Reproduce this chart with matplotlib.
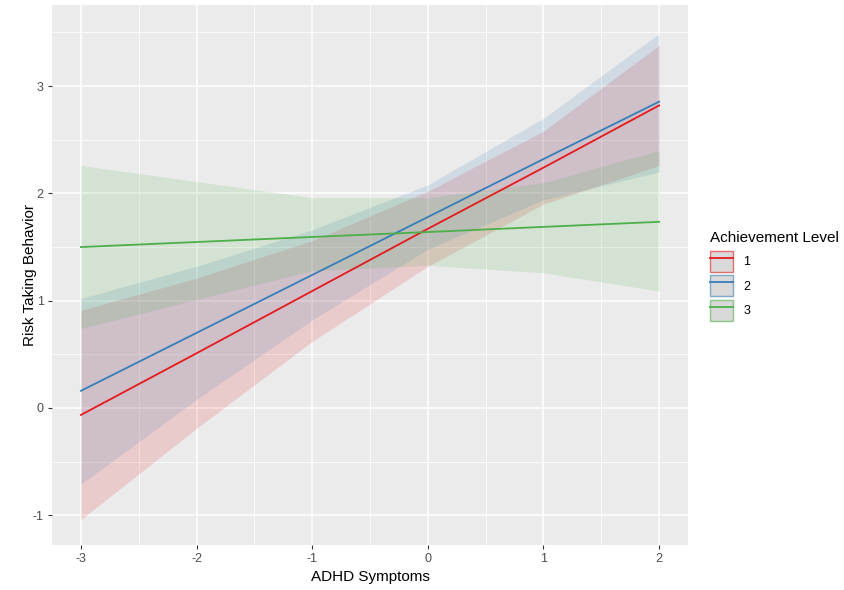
import numpy as np
import matplotlib
matplotlib.use("Agg")
import matplotlib.pyplot as plt
from matplotlib.patches import Patch
from matplotlib.lines import Line2D
from matplotlib.legend_handler import HandlerTuple
from matplotlib.colors import to_rgba

plt.rcParams['font.family'] = ['Liberation Sans', 'DejaVu Sans']
plt.rcParams['axes.unicode_minus'] = False

adhd = [-3, -2, -1, 0, 1, 2]

levels = ['1', '2', '3']
colors = ['#E41A1C', '#377EB8', '#4DAF4A']

# predicted risk taking per achievement level
pred_1 = [-0.065, 0.51, 1.09, 1.67, 2.24, 2.82]
pred_2 = [0.16, 0.70, 1.24, 1.78, 2.32, 2.855]
pred_3 = [1.50, 1.547, 1.594, 1.64, 1.688, 1.735]

# confidence bands
low_1 = [-1.04, -0.19, 0.62, 1.32, 1.90, 2.26]
high_1 = [0.91, 1.21, 1.56, 2.02, 2.58, 3.38]
low_2 = [-0.71, 0.08, 0.82, 1.48, 1.94, 2.20]
high_2 = [1.02, 1.32, 1.66, 2.08, 2.70, 3.49]
low_3 = [0.74, 1.01, 1.28, 1.33, 1.26, 1.09]
high_3 = [2.26, 2.11, 1.96, 1.96, 2.10, 2.40]

preds = [pred_1, pred_2, pred_3]
lows = [low_1, low_2, low_3]
highs = [high_1, high_2, high_3]

fig = plt.figure(figsize=(8.44, 5.90), dpi=100, facecolor='white')
ax = fig.add_axes([52/844, 1-545/590, (688-52)/844, (545-5)/590])
ax.set_facecolor('#EBEBEB')

for c, lo, hi in zip(colors, lows, highs):
    ax.fill_between(adhd, lo, hi, color=c, alpha=0.15, linewidth=0)
for c, p in zip(colors, preds):
    ax.plot(adhd, p, color=c, linewidth=1.3)

ax.set_xlim(-3.25, 2.25)
ax.set_ylim(-1.277, 3.756)
ax.set_xticks(adhd)
ax.set_xticks([-2.5, -1.5, -0.5, 0.5, 1.5], minor=True)
ax.set_yticks([-1, 0, 1, 2, 3])
ax.set_yticks([-0.5, 0.5, 1.5, 2.5, 3.5], minor=True)
ax.grid(True, which='major', color='white', linewidth=1.1)
ax.grid(True, which='minor', color='white', linewidth=0.55)
ax.set_axisbelow(True)
for s in ax.spines.values():
    s.set_visible(False)
ax.tick_params(which='major', length=3, color='#333333', labelcolor='#4D4D4D',
               labelsize=9, pad=3)
ax.tick_params(which='minor', length=0)

ax.set_xlabel('ADHD Symptoms', fontsize=11, color='black', labelpad=3)
ax.set_ylabel('Risk Taking Behavior', fontsize=11, color='black', labelpad=-3)

handles = []
for c in colors:
    box = Patch(facecolor='#D9D9D9', edgecolor=to_rgba(c, 0.6), linewidth=1.0)
    ln = Line2D([], [], color=c, linewidth=1.3)
    handles.append((box, ln))
leg = fig.legend(handles, levels, title='Achievement Level',
                 handler_map={tuple: HandlerTuple(ndivide=1, pad=0)},
                 loc='upper left', bbox_to_anchor=(699/844, 1-220/590),
                 frameon=False, fontsize=9, title_fontsize=11,
                 handlelength=1.84, handleheight=2.2, handletextpad=0.8,
                 labelspacing=0.28, alignment='left')
leg._legend_box.sep = 4

fig.savefig('out.png', dpi=100)
